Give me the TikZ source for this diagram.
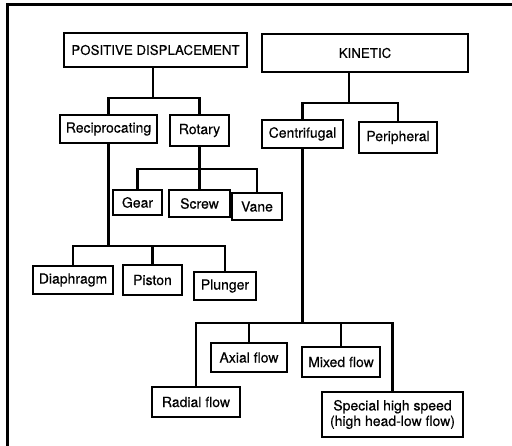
\documentclass[tikz,border=0pt]{standalone}
\usepackage{fontspec}
\setmainfont{TeX Gyre Heros}[FakeBold=0.4]
\tikzset{
    box/.style={draw, line width=1.8pt, inner sep=1pt, align=center,
        font=\fontsize{14}{15.5}\selectfont},
    link/.style={line width=2.6pt},
}

\begin{document}
\begin{tikzpicture}[x=1pt, y=-1pt]
\useasboundingbox (0,0) rectangle (512,446);

    % frame (left and top only)
    \draw[line width=3.5pt] (7.5,446) -- (7.5,4.5) -- (512,4.5);

    \node[box, minimum width=183pt, minimum height=34pt, font=\fontsize{13.3}{15}\selectfont] (pd) at (155.5,50) {POSITIVE DISPLACEMENT};
    \node[box, minimum width=206pt, minimum height=38pt, font=\fontsize{13.3}{15}\selectfont] (kin) at (365,53) {KINETIC};

    \node[box, minimum width=97pt, minimum height=28pt] (recip) at (108.5,129) {Reciprocating};
    \node[box, minimum width=59pt, minimum height=31pt] (rot) at (199.5,130.5) {Rotary};
    \node[box, minimum width=81pt, minimum height=28pt] (cent) at (302.5,134) {Centrifugal};
    \node[box, minimum width=78pt, minimum height=31pt] (peri) at (398,137.5) {Peripheral};

    \node[box, minimum width=49pt, minimum height=25pt] (gear) at (137.5,202.5) {Gear};
    \node[box, minimum width=61pt, minimum height=27pt] (screw) at (199.5,203.5) {Screw};
    \node[box, minimum width=50pt, minimum height=27pt] (vane) at (257,206.5) {Vane};

    \node[box, minimum width=80pt, minimum height=28pt] (diaph) at (73,280) {Diaphragm};
    \node[box, minimum width=59pt, minimum height=30pt] (piston) at (152.5,280) {Piston};
    \node[box, minimum width=62pt, minimum height=28pt] (plunger) at (225,286) {Plunger};

    \node[box, minimum width=76pt, minimum height=29pt] (axial) at (249,357.5) {Axial flow};
    \node[box, minimum width=78pt, minimum height=30pt] (mixed) at (341,362) {Mixed flow};
    \node[box, minimum width=88pt, minimum height=30pt] (radial) at (196,402) {Radial flow};
    \node[box, minimum width=141pt, minimum height=45pt] (special) at (392.5,414.5)
        {Special high speed\\(high head-low flow)};

    % junctions of the trees
    \coordinate (pdbar) at (153,98);
    \coordinate (kinbar) at (349,103);
    \coordinate (rotbar) at (rot.center |- 0,169);
    \coordinate (recbar) at (recip.center |- 0,246);
    \coordinate (centbar) at (cent.center |- 0,323);

    \draw[link] (pd.south -| pdbar) -- (pdbar);
    \draw[link] (recip.north) |- (pdbar) -| (rot.north);
    \draw[link] (kin.south -| kinbar) -- (kinbar);
    \draw[link] (cent.north) |- (kinbar) -| (peri.north);

    \draw[link] (rot.south) -- (rotbar);
    \draw[link] (gear.north) |- (rotbar) -| (vane.north);
    \draw[link] (rotbar) -- (screw.north);

    \draw[link] (recip.south) -- (recbar);
    \draw[link] (diaph.north) |- (recbar) -| (plunger.north);
    \draw[link] (piston.north) -- (piston.north |- recbar);

    \draw[link] (cent.south) -- (centbar);
    \draw[link] (radial.north) |- (centbar) -| (special.north);
    \draw[link] (axial.north) -- (axial.north |- centbar);
    \draw[link] (mixed.north) -- (mixed.north |- centbar);

\end{tikzpicture}
\end{document}
